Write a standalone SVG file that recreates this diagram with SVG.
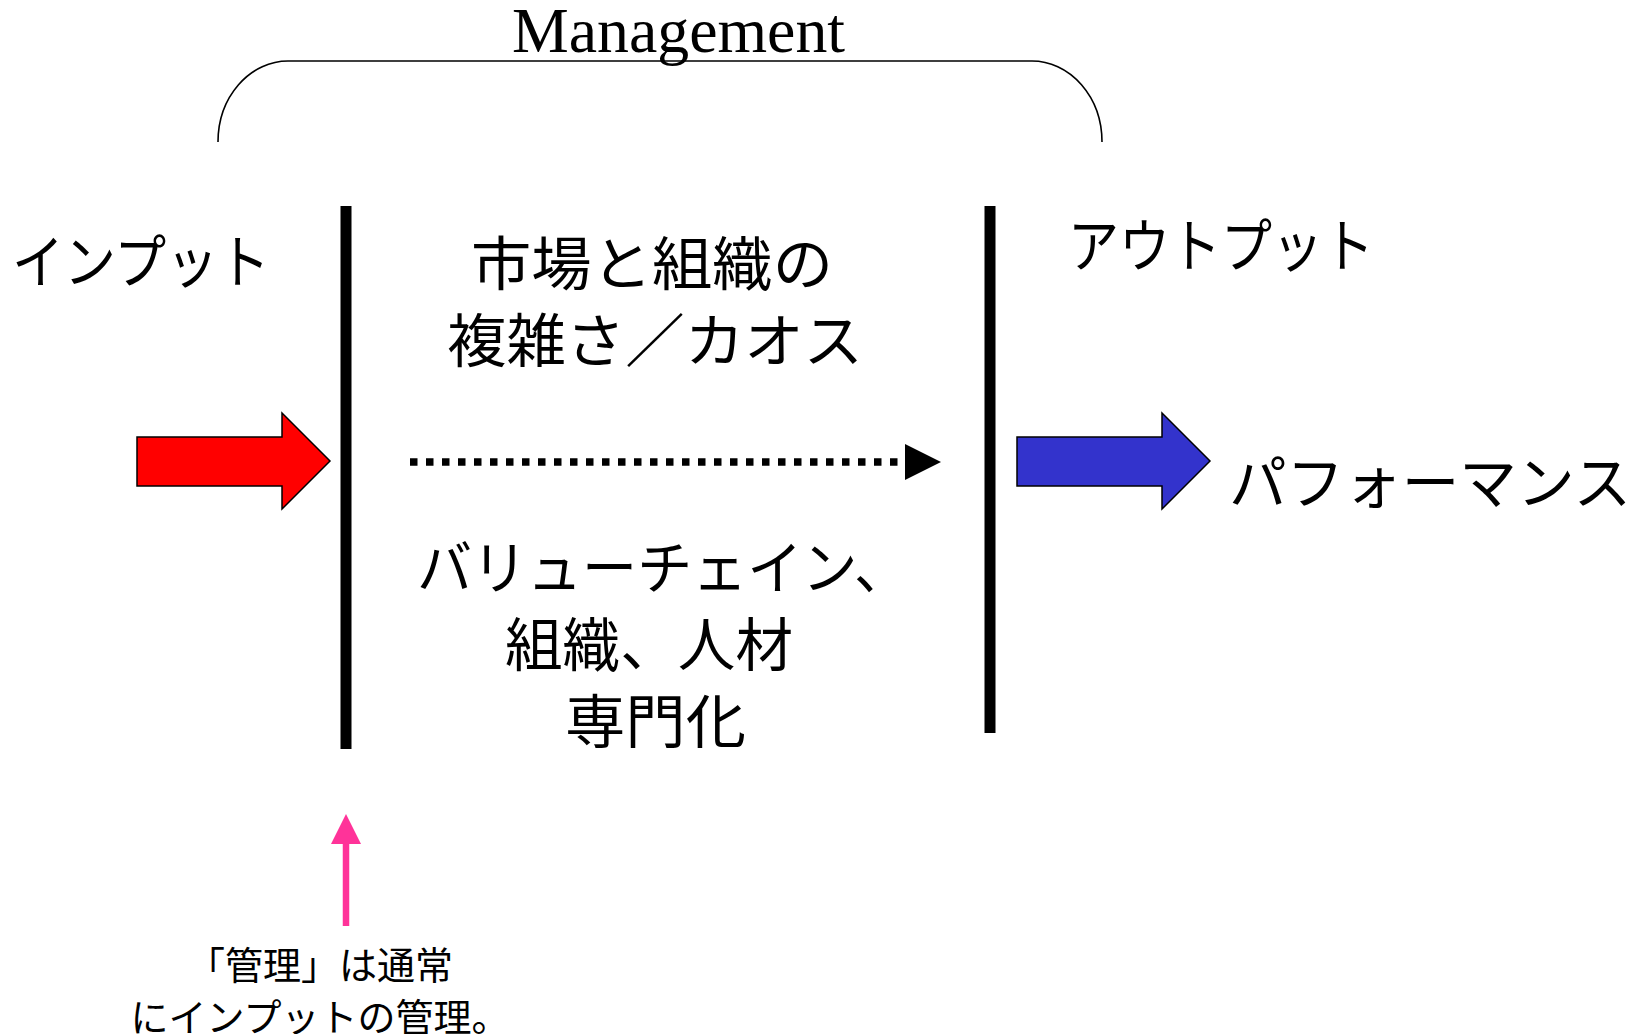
<svg xmlns="http://www.w3.org/2000/svg" width="1640" height="1034" viewBox="0 0 1640 1034">
  <style>
    .jp { font-family: "Noto Sans CJK JP", "Noto Sans", sans-serif; font-size: 58px; fill: #000; }
    .note { font-family: "Noto Sans CJK JP", "Noto Sans", sans-serif; font-size: 38px; fill: #000; }
    .en { font-family: "Liberation Serif", "Times New Roman", serif; font-size: 63px; fill: #000; }
    .bar { fill: #000; }
    .bigarrow { stroke: #000; stroke-width: 1.5; stroke-linejoin: miter; }
  </style>
  <rect width="1640" height="1034" fill="#fff"/>

  <g id="management">
    <path d="M218,142 A70,81 0 0 1 288,61 L1032,61 A70,81 0 0 1 1102,142" fill="none" stroke="#000" stroke-width="1.6"/>
    <text class="en" x="512" y="52" textLength="333" lengthAdjust="spacingAndGlyphs">Management</text>
  </g>

  <g id="input-label">
    <text class="jp" x="12" y="283" textLength="258" lengthAdjust="spacingAndGlyphs">インプット</text>
  </g>

  <g id="left-barrier">
    <rect class="bar" x="340.5" y="206" width="11" height="543"/>
  </g>

  <g id="right-barrier">
    <rect class="bar" x="984.5" y="206" width="11" height="527"/>
  </g>

  <g id="complexity">
    <text class="jp" x="471" y="285" textLength="362" lengthAdjust="spacingAndGlyphs">市場と組織の</text>
    <text class="jp" x="447" y="362" textLength="416" lengthAdjust="spacingAndGlyphs">複雑さ／カオス</text>
  </g>

  <g id="output-label">
    <text class="jp" x="1068" y="267" textLength="306" lengthAdjust="spacingAndGlyphs">アウトプット</text>
  </g>

  <g id="input-arrow">
    <polygon class="bigarrow" fill="#FF0000" points="137,437 282,437 282,413 330,461 282,509 282,486 137,486"/>
  </g>

  <g id="output-arrow">
    <polygon class="bigarrow" fill="#3333CC" points="1017,437 1162,437 1162,413 1210,461 1162,509 1162,486 1017,486"/>
  </g>

  <g id="performance">
    <text class="jp" x="1229" y="504" textLength="402" lengthAdjust="spacingAndGlyphs">パフォーマンス</text>
  </g>

  <g id="structure">
    <text class="jp" x="417" y="589" textLength="492" lengthAdjust="spacingAndGlyphs">バリューチェイン、</text>
    <text class="jp" x="505" y="666" textLength="288" lengthAdjust="spacingAndGlyphs">組織、人材</text>
    <text class="jp" x="565" y="743" textLength="181" lengthAdjust="spacingAndGlyphs">専門化</text>
  </g>

  <g id="note">
    <text class="note" x="320" y="979" text-anchor="middle">「管理」は通常</text>
    <text class="note" x="320" y="1031" text-anchor="middle">にインプットの管理。</text>
  </g>

  <g id="connectors">
    <line x1="410" y1="462" x2="905" y2="462" stroke="#000" stroke-width="7.5" stroke-dasharray="7.5 8.5"/>
    <polygon points="905,444 941,462 905,480" fill="#000"/>
    <line x1="346" y1="926" x2="346" y2="843" stroke="#FF3399" stroke-width="6.5"/>
    <polygon points="331,844 346,814 361,844" fill="#FF3399"/>
  </g>
</svg>
